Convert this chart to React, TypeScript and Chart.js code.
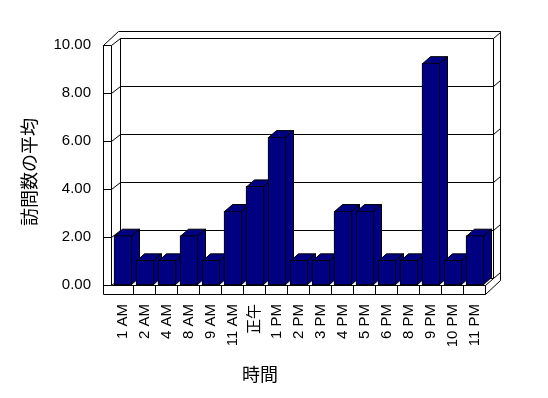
import { useEffect, useRef } from 'react';
import { Chart, registerables } from 'chart.js';

Chart.register(...registerables);

// ---- data ----
const categories = ['1 AM', '2 AM', '4 AM', '8 AM', '9 AM', '11 AM', '正午', '1 PM', '2 PM', '3 PM', '4 PM', '5 PM', '6 PM', '8 PM', '9 PM', '10 PM', '11 PM'];
const visits = [2, 1, 1, 2, 1, 3, 4, 6, 1, 1, 3, 3, 1, 1, 9, 1, 2];
const yTicks = [0, 2, 4, 6, 8, 10];
const yTitle = '訪問数の平均';
const xTitle = '時間';

// ---- style ----
const NAVY = '#000080';
const LINE = '#000000';
const FONT = "'Liberation Sans', Arial, 'Noto Sans CJK JP', sans-serif";
const CJK = "'Noto Sans CJK JP', 'Liberation Sans', sans-serif";

const wallsPlugin = {
  id: 'walls3d',
  beforeDatasetsDraw(chart: any) {
    const ctx = chart.ctx as CanvasRenderingContext2D;
    const { left: L, right: R } = chart.chartArea;
    const yS = chart.scales.y;
    const Y = (v: number) => Math.round(yS.getPixelForValue(v));
    const top = Y(yTicks[yTicks.length - 1]);
    const base = Y(0);
    const ox = L - 9 + 0.5; // left wall outer
    const ix = L - 1 + 0.5; // left wall inner
    const bx = L + 8 + 0.5; // back wall left
    const rx = R + 7 + 0.5; // back wall right
    const fx = R + 14 + 0.5; // outer right edge
    const fr = R - 0.5; // floor front right

    ctx.save();
    ctx.strokeStyle = LINE;
    ctx.lineWidth = 1;
    ctx.beginPath();
    const seg = (x1: number, y1: number, x2: number, y2: number) => {
      ctx.moveTo(x1, y1);
      ctx.lineTo(x2, y2);
    };
    // left wall front face
    seg(ox, top + 0.5, ox, base + 9.5);
    seg(ix, top + 0.5, ix, base + 0.5);
    // left wall top & outer top edge
    seg(ox, top + 0.5, ox + 15, top - 13.5);
    seg(ox + 15, top - 13.5, fx, top - 13.5);
    seg(fx, top - 13.5, fx, base - 4.5);
    // back wall edges
    seg(bx, top - 6.5, bx, base - 6.5);
    seg(rx, top - 6.5, rx, base - 6.5);
    // gridlines
    for (const v of yTicks) {
      const y = Y(v) + 0.5;
      seg(ox, y, ix, y);
      seg(ix, y, bx, y - 7);
      seg(bx, y - 7, rx, y - 7);
      seg(rx, y - 7, fx, y - 13);
    }
    // floor front face
    seg(ox, base + 9.5, fr, base + 9.5);
    seg(ix, base + 0.5, fr, base + 0.5);
    seg(fr, base + 0.5, fr, base + 9.5);
    const xS = chart.scales.x;
    const step = (R - L) / categories.length;
    for (let k = 1; k < categories.length; k++) {
      const x = Math.round(L + step * k) - 0.5;
      seg(x, base + 0.5, x, base + 9.5);
    }
    seg(fr, base + 9.5, fx, base - 4.5);
    seg(fr, base + 0.5, rx, base - 6.5);
    ctx.stroke();

    // bar tops and sides (fronts are drawn by Chart.js)
    const meta = chart.getDatasetMeta(0);
    const DX = 8, DY = -7;
    ctx.fillStyle = NAVY;
    for (const el of meta.data) {
      const p = el.getProps(['x', 'y', 'base', 'width'], true);
      const l = p.x - p.width / 2 + 0.5;
      const r = p.x + p.width / 2 - 0.5;
      const t = p.y + 0.5;
      const b = p.base - 0.5;
      ctx.beginPath();
      ctx.moveTo(l, t);
      ctx.lineTo(l + DX, t + DY);
      ctx.lineTo(r + DX, t + DY);
      ctx.lineTo(r, t);
      ctx.closePath();
      ctx.fill();
      ctx.stroke();
      ctx.beginPath();
      ctx.moveTo(r, t);
      ctx.lineTo(r + DX, t + DY);
      ctx.lineTo(r + DX, b + DY);
      ctx.lineTo(r, b);
      ctx.closePath();
      ctx.fill();
      ctx.stroke();
    }
    ctx.restore();
  },
  afterDraw(chart: any) {
    const ctx = chart.ctx as CanvasRenderingContext2D;
    ctx.save();
    ctx.fillStyle = '#000';
    ctx.font = `18px ${CJK}`;
    ctx.textAlign = 'center';
    ctx.textBaseline = 'middle';
    ctx.fillText(xTitle, 260, 374);
    ctx.translate(29, 172);
    ctx.rotate(-Math.PI / 2);
    ctx.fillText(yTitle, 0, 0);
    ctx.restore();
  },
};

export default function App() {
  const ref = useRef<HTMLCanvasElement>(null);
  useEffect(() => {
    document.body.style.margin = '0';
    const chart = new Chart(ref.current as HTMLCanvasElement, {
      type: 'bar',
      data: {
        labels: categories,
        datasets: [
          {
            label: yTitle,
            data: visits,
            yAxisID: 'yb',
            backgroundColor: NAVY,
            borderColor: LINE,
            borderWidth: 1,
            borderSkipped: false,
            barThickness: 18,
          },
        ],
      },
      options: {
        responsive: false,
        devicePixelRatio: 1,
        animation: false,
        layout: { padding: { left: 0, right: 62, top: 45, bottom: 0 } },
        plugins: { legend: { display: false }, tooltip: { enabled: false } },
        scales: {
          x: {
            type: 'category',
            offset: true,
            grid: { display: false, drawTicks: false },
            border: { display: false },
            ticks: {
              autoSkip: false,
              minRotation: 90,
              maxRotation: 90,
              padding: 19,
              color: '#000',
              font: { family: FONT, size: 15 },
            },
            afterFit: (s: any) => {
              s.height = 113;
            },
          },
          y: {
            type: 'linear',
            position: 'left',
            min: 0,
            max: 10,
            grid: { display: false, drawTicks: false },
            border: { display: false },
            afterBuildTicks: (s: any) => {
              s.ticks = yTicks.map((v) => ({ value: v }));
            },
            ticks: {
              padding: 21,
              color: '#000',
              font: { family: FONT, size: 15 },
              callback: (v: any) => Number(v).toFixed(2),
            },
            afterFit: (s: any) => {
              s.width = 112;
            },
          },
          yb: {
            type: 'linear',
            display: false,
            min: 0,
            max: 9.736,
          },
        },
      },
      plugins: [wallsPlugin],
    });
    return () => chart.destroy();
  }, []);
  return (
    <div style={{ width: 548, height: 398 }}>
      <canvas ref={ref} width={548} height={398} style={{ display: 'block' }} />
    </div>
  );
}
